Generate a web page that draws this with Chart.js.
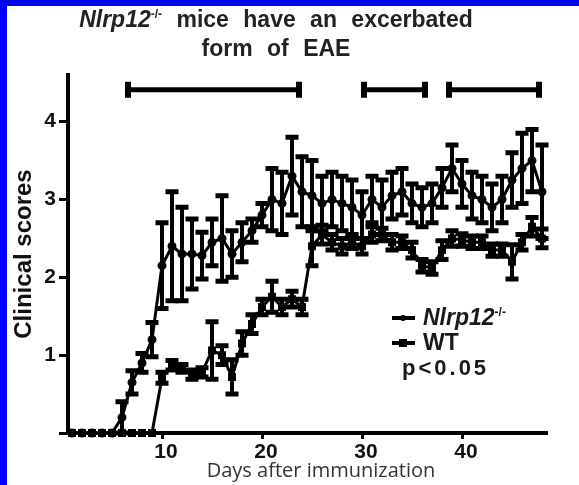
<!DOCTYPE html>
<html>
<head>
<meta charset="utf-8">
<script src="https://cdn.jsdelivr.net/npm/chart.js@4"></script>
<style>
  html, body { margin: 0; padding: 0; background: #fff; }
  #wrap { position: relative; width: 579px; height: 485px; overflow: hidden; background: #fff; }
  #wrap canvas { position: absolute; left: 0; top: 0; }
  .blue { position: absolute; background: #0000ff; }
  .txt { position: absolute; font-family: "Liberation Sans", Arial, sans-serif; font-weight: bold; color: #1a1a1a; white-space: nowrap; }
  .title { left: 0; width: 552px; text-align: center; font-size: 23px; line-height: 23px; word-spacing: 8px; color: #222; }
  .title sup { font-size: 12px; vertical-align: 9px; line-height: 0; word-spacing: 0; }
  .legline { position: absolute; left: 392px; width: 23px; height: 4px; background: #000; }
  .legdot { position: absolute; background: #000; }
  #xtitle { position: absolute; top: 458px; left: 0; width: 642px; text-align: center; font-family: "Open Sans", sans-serif; font-size: 20px; color: #333; line-height: 24px; }
</style>
</head>
<body>
<div id="wrap">
  <canvas id="chart" width="579" height="485"></canvas>
  <div class="blue" style="left:0;top:0;width:7px;height:485px"></div>
  <div class="blue" style="left:0;top:0;width:579px;height:6px"></div>
  <div class="txt title" style="top:8px"><i>Nlrp12</i><sup>-/-</sup> mice have an excerbated</div>
  <div class="txt title" style="top:37px">form of EAE</div>
  <div class="legline" style="top:316px"></div>
  <div class="legdot" style="left:400px;top:315px;width:6px;height:6px;border-radius:3px"></div>
  <div class="legline" style="top:341px"></div>
  <div class="legdot" style="left:399px;top:339px;width:8px;height:8px"></div>
  <div class="txt" style="left:423px;top:306px;font-size:23px;line-height:23px"><i>Nlrp12</i><sup style="font-size:12px;vertical-align:9px;line-height:0">-/-</sup></div>
  <div class="txt" style="left:423px;top:331px;font-size:23px;line-height:23px">WT</div>
  <div class="txt" style="left:402px;top:357px;font-size:22px;line-height:22px;letter-spacing:3px">p&lt;0.05</div>
  <div id="xtitle">Days after immunization</div>
</div>
<script>
// days after immunization
const days = [1, 2, 3, 4, 5, 6, 7, 8, 9, 10, 11, 12, 13, 14, 15, 16, 17, 18, 19, 20, 21, 22, 23, 24,
  25, 26, 27, 28, 29, 30, 31, 32, 33, 34, 35, 36, 37, 38, 39, 40, 41, 42, 43, 44, 45, 46, 47, 48];

// Nlrp12-/- mean clinical score and SEM
const koMean = [0, 0, 0, 0, 0, 0.2, 0.65, 0.9, 1.2, 2.15, 2.4, 2.3, 2.3, 2.28, 2.45, 2.5, 2.3, 2.45, 2.6, 2.8,
  3.0, 2.95, 3.3, 3.1, 3.05, 2.95, 3.0, 2.95, 2.9, 2.8, 3.0, 2.9, 3.05, 3.1, 2.95, 2.9, 2.95, 3.15, 3.4, 3.2,
  3.05, 3.0, 2.9, 3.0, 3.25, 3.4, 3.5, 3.1];
const koErr = [0, 0, 0, 0, 0, 0.2, 0.15, 0.12, 0.22, 0.55, 0.7, 0.6, 0.45, 0.3, 0.3, 0.55, 0.3, 0.25, 0.15, 0.15,
  0.4, 0.4, 0.5, 0.45, 0.45, 0.35, 0.35, 0.35, 0.35, 0.3, 0.3, 0.35, 0.3, 0.3, 0.25, 0.25, 0.25, 0.25, 0.3, 0.3,
  0.3, 0.3, 0.3, 0.3, 0.35, 0.45, 0.4, 0.6];

// WT mean clinical score and SEM
const wtMean = [0, 0, 0, 0, 0, 0, 0, 0, 0, 0.71, 0.87, 0.83, 0.75, 0.78, 1.06, 1.0, 0.72, 1.15, 1.4, 1.62,
  1.75, 1.62, 1.72, 1.62, 2.4, 2.55, 2.45, 2.4, 2.45, 2.4, 2.55, 2.55, 2.45, 2.45, 2.35, 2.15, 2.12, 2.35, 2.5, 2.48,
  2.45, 2.45, 2.35, 2.35, 2.2, 2.45, 2.65, 2.5];
const wtErr = [0, 0, 0, 0, 0, 0, 0, 0, 0, 0.07, 0.06, 0.05, 0.06, 0.06, 0.37, 0.12, 0.22, 0.15, 0.12, 0.1,
  0.2, 0.1, 0.1, 0.1, 0.25, 0.12, 0.1, 0.1, 0.08, 0.1, 0.1, 0.08, 0.1, 0.08, 0.1, 0.08, 0.08, 0.12, 0.1, 0.08,
  0.08, 0.08, 0.08, 0.08, 0.22, 0.1, 0.12, 0.12];

// p<0.05 brackets (day ranges) and their height
const sigStart = [6.6, 30.2, 38.7];
const sigEnd = [23.7, 36.3, 47.7];
const sigLevel = 4.41;

const xTicks = [10, 20, 30, 40];
const yTicks = [0, 1, 2, 3, 4];

const errorBars = {
  id: 'errorBars',
  afterDatasetsDraw(chart) {
    const { ctx, scales: { x, y } } = chart;
    ctx.save();
    ctx.strokeStyle = '#000';
    chart.data.datasets.forEach(ds => {
      ds.errors.forEach((e, i) => {
        if (!e) return;
        const px = x.getPixelForValue(days[i]);
        const top = y.getPixelForValue(ds.data[i].y + e);
        const bot = y.getPixelForValue(ds.data[i].y - e);
        ctx.lineWidth = 4;
        ctx.beginPath();
        ctx.moveTo(px, top); ctx.lineTo(px, bot);
        ctx.stroke();
        ctx.lineWidth = 5;
        ctx.beginPath();
        ctx.moveTo(px - 6.5, top); ctx.lineTo(px + 6.5, top);
        ctx.moveTo(px - 6.5, bot); ctx.lineTo(px + 6.5, bot);
        ctx.stroke();
      });
    });
    // significance brackets
    const sy = y.getPixelForValue(sigLevel);
    sigStart.forEach((s, i) => {
      const x0 = x.getPixelForValue(s), x1 = x.getPixelForValue(sigEnd[i]);
      ctx.lineWidth = 5;
      ctx.beginPath();
      ctx.moveTo(x0, sy); ctx.lineTo(x1, sy);
      ctx.stroke();
      ctx.lineWidth = 6;
      ctx.beginPath();
      ctx.moveTo(x0, sy - 8); ctx.lineTo(x0, sy + 8);
      ctx.moveTo(x1, sy - 8); ctx.lineTo(x1, sy + 8);
      ctx.stroke();
    });
    ctx.restore();
  }
};

new Chart(document.getElementById('chart'), {
  type: 'line',
  data: {
    datasets: [
      {
        label: 'Nlrp12-/-',
        data: days.map((d, i) => ({ x: d, y: koMean[i] })),
        errors: koErr,
        borderColor: '#000',
        backgroundColor: '#000',
        borderWidth: 3,
        pointStyle: 'circle',
        pointRadius: 3,
        tension: 0
      },
      {
        label: 'WT',
        data: days.map((d, i) => ({ x: d, y: wtMean[i] })),
        errors: wtErr,
        borderColor: '#000',
        backgroundColor: '#000',
        borderWidth: 3,
        pointStyle: 'rect',
        pointRadius: 3.5,
        tension: 0
      }
    ]
  },
  options: {
    responsive: false,
    animation: false,
    devicePixelRatio: 1,
    clip: false,
    layout: { padding: { left: 7, top: 75, right: 32, bottom: 0 } },
    plugins: { legend: { display: false }, tooltip: { enabled: false } },
    scales: {
      x: {
        type: 'linear',
        min: 0.6,
        max: 48.5,
        afterFit: s => { s.height = 52; },
        afterBuildTicks: s => { s.ticks = xTicks.map(v => ({ value: v })); },
        ticks: {
          font: { family: 'Liberation Sans', size: 21, weight: 'bold' },
          color: '#111',
          padding: 1,
          labelOffset: 4,
          maxRotation: 0
        },
        grid: { drawOnChartArea: false, tickLength: 6, tickWidth: 3, tickColor: '#000' },
        border: { width: 4, color: '#000' }
      },
      y: {
        min: 0,
        max: 4.6,
        afterFit: s => { s.width = 61; },
        afterBuildTicks: s => { s.ticks = yTicks.map(v => ({ value: v })); },
        ticks: {
          font: { family: 'Liberation Sans', size: 21, weight: 'bold' },
          color: '#111',
          padding: 3,
          callback: v => (v === 0 ? '' : v)
        },
        grid: { drawOnChartArea: false, tickLength: 9, tickWidth: 3, tickColor: '#000' },
        border: { width: 4, color: '#000' },
        title: {
          display: true,
          text: 'Clinical scores',
          font: { family: 'Liberation Sans', size: 24, weight: 'bold' },
          color: '#111',
          padding: { top: 3, bottom: 0 }
        }
      }
    }
  },
  plugins: [errorBars]
});
</script>
</body>
</html>
